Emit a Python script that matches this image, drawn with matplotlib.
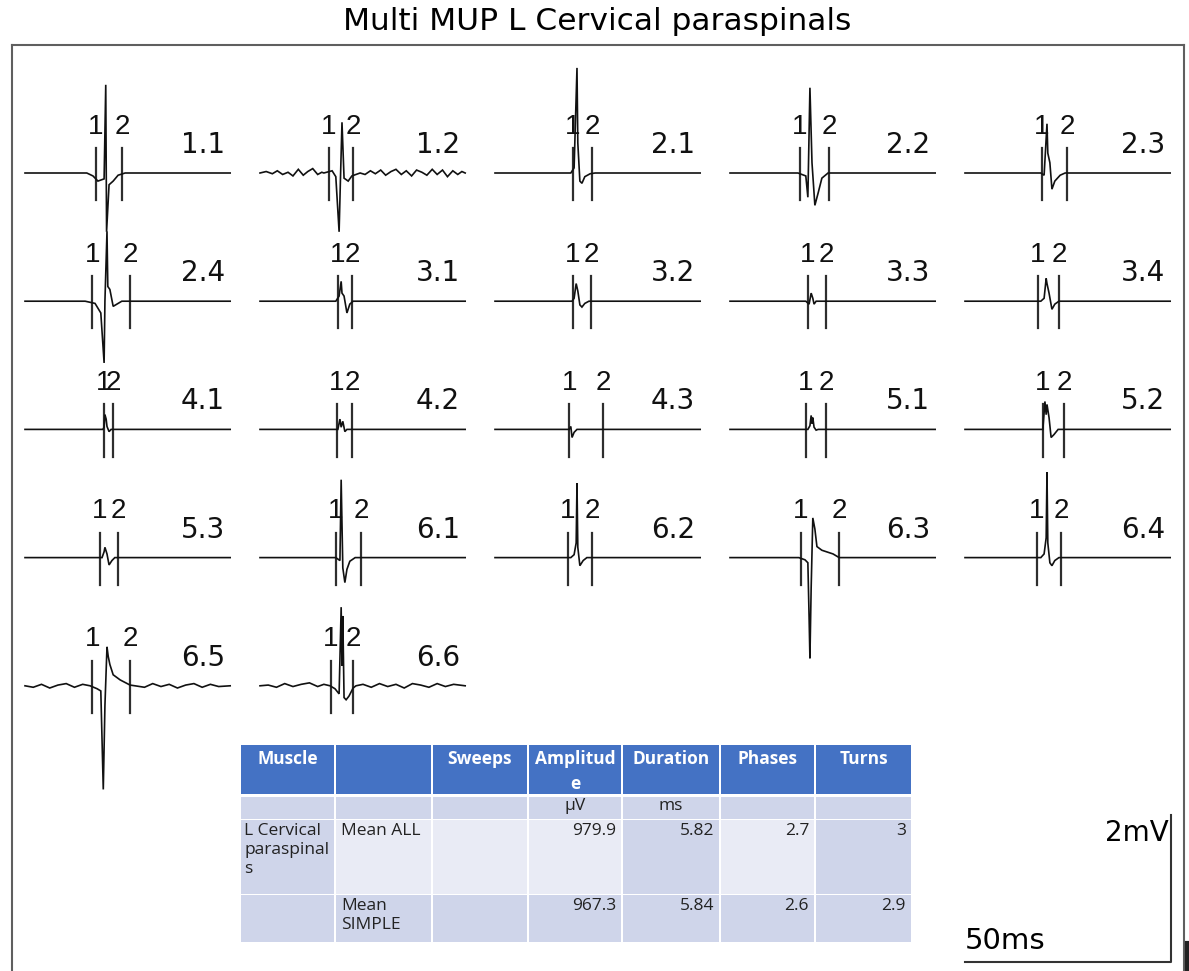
import matplotlib
matplotlib.use("Agg")
import matplotlib.pyplot as plt
from matplotlib.patches import Rectangle
from matplotlib.lines import Line2D

# ---------------- data ----------------
mup_labels = ["1.1", "1.2", "2.1", "2.2", "2.3",
              "2.4", "3.1", "3.2", "3.3", "3.4",
              "4.1", "4.2", "4.3", "5.1", "5.2",
              "5.3", "6.1", "6.2", "6.3", "6.4",
              "6.5", "6.6"]

# marker positions (ms from sweep start)
marker1_ms = [17.2, 16.7, 18.9, 17.0, 18.7,
              16.3, 18.9, 18.9, 18.9, 17.7,
              19.2, 18.7, 18.0, 18.4, 18.9,
              18.2, 18.4, 17.7, 17.2, 17.5,
              16.3, 17.2]
marker2_ms = [23.5, 22.6, 23.5, 24.0, 24.8,
              25.5, 22.3, 23.3, 23.3, 22.8,
              21.4, 22.3, 26.2, 23.3, 24.0,
              22.6, 24.5, 23.5, 26.5, 23.3,
              25.5, 22.6]

# waveform key points (time in ms, amplitude in mV)
wave_t_ms = [
    [15.0, 16.5, 17.7, 19.2, 19.6, 19.8, 20.4, 21.4, 22.6, 24.3],
    [1.5, 3.0, 4.2, 5.5, 6.8, 8.0, 9.3, 10.5, 11.6, 12.8, 14.0, 15.0,
     15.5, 17.5, 18.4, 19.2, 19.5, 19.9, 20.4, 21.4, 22.3, 24.3,
     25.5, 26.8, 28.0, 29.3, 30.5, 31.8, 33.0, 34.3, 35.5, 36.8,
     38.0, 39.3, 40.5, 41.8, 43.0, 44.3, 45.5, 46.8, 48.0, 49.0],
    [18.4, 19.2, 19.9, 20.1, 20.6, 21.1, 21.8, 23.1, 24.3],
    [16.5, 18.4, 18.9, 19.4, 19.9, 20.6, 21.4, 22.3, 23.8],
    [18.4, 19.2, 19.9, 20.1, 20.6, 21.1, 21.8, 23.1, 24.3],
    [14.6, 17.0, 18.4, 19.2, 19.4, 19.9, 20.1, 20.6, 21.4, 22.3, 23.5],
    [18.4, 19.2, 19.7, 19.9, 20.4, 21.1, 21.8, 22.6],
    [18.7, 19.2, 19.7, 20.1, 20.6, 21.1, 21.8, 22.8],
    [18.4, 19.2, 19.7, 20.1, 20.4, 20.9],
    [18.4, 19.2, 19.7, 19.9, 20.4, 21.1, 21.8, 22.8],
    [18.9, 19.2, 19.4, 19.7, 19.9, 20.4, 20.9],
    [18.9, 19.4, 19.7, 20.1, 20.6, 21.1],
    [18.0, 18.4, 18.7, 19.2, 19.9],
    [18.9, 19.4, 19.7, 19.9, 20.1, 20.4, 20.9, 21.4],
    [18.9, 19.4, 19.7, 19.9, 20.4, 20.9, 21.6, 22.6],
    [18.7, 19.2, 19.4, 19.9, 20.4, 21.1, 21.8],
    [18.4, 19.4, 19.7, 20.1, 20.6, 21.1, 21.8, 23.1],
    [18.4, 19.2, 19.7, 19.9, 20.1, 20.6, 21.4, 22.3],
    [16.7, 18.2, 18.9, 19.2, 19.4, 19.7, 20.1, 20.6, 21.1, 22.3, 25.0, 26.5],
    [18.4, 19.2, 19.7, 19.9, 20.1, 20.6, 21.1, 21.8, 22.8],
    [2.0, 4.0, 6.0, 8.0, 10.0, 12.0, 14.0,
     15.8, 17.5, 18.4, 19.0, 19.4, 19.9, 20.2, 20.6, 21.4, 23.1, 25.5, 26.7,
     29.0, 31.0, 33.0, 35.0, 37.0, 39.0, 41.0, 43.0, 45.0, 47.0],
    [2.0, 4.0, 6.0, 8.0, 10.0, 12.0, 14.0, 15.5,
     17.0, 18.2, 19.2, 19.7, 19.9, 20.1, 20.4, 20.9, 21.6, 22.6, 23.3,
     25.0, 27.0, 29.0, 31.0, 33.0, 35.0, 37.0, 39.0, 41.0, 43.0, 45.0, 47.0],
]
wave_v_mV = [
    [0, -0.04, -0.11, -0.08, 1.20, -0.80, -0.16, -0.11, -0.03, 0],
    [0.02, -0.01, 0.03, -0.02, 0.01, -0.04, 0.05, -0.03, 0.02, 0.06, -0.02, 0.01,
     0, 0.03, -0.05, -0.80, -0.14, 0.69, -0.07, -0.11, -0.04, 0,
     -0.02, 0.03, -0.01, 0.04, -0.03, 0.02, 0.05, -0.02, 0.03, -0.04,
     0.04, 0.01, -0.03, 0.05, -0.02, 0.04, -0.05, 0.03, -0.02, 0.02],
    [0, 0.07, 1.43, 0.41, -0.11, -0.14, -0.05, -0.01, 0],
    [0, -0.04, -0.33, 1.16, 0.14, -0.44, -0.27, -0.07, 0],
    [0, -0.03, 0.67, 0.27, 0.14, -0.22, -0.11, -0.03, 0],
    [0, -0.03, -0.16, -0.84, 0.0, 0.95, 0.20, 0.16, -0.07, -0.04, 0],
    [0, 0.07, 0.27, 0.11, 0.07, -0.16, -0.04, 0],
    [0, 0.04, 0.24, 0.14, -0.05, -0.08, -0.03, 0],
    [0, -0.04, 0.11, 0.04, -0.04, 0],
    [0, 0.04, 0.31, 0.24, 0.11, -0.11, -0.04, 0],
    [0, 0.03, 0.20, 0.14, 0.04, -0.03, 0],
    [0, 0.14, 0.03, 0.11, -0.03, 0],
    [0, 0.04, -0.11, -0.04, 0],
    [0, 0.05, 0.19, 0.08, 0.16, 0.03, -0.01, 0],
    [0, 0.38, 0.20, 0.34, 0.16, -0.11, -0.07, 0],
    [0, 0.08, 0.14, 0.05, -0.10, -0.04, 0],
    [0, -0.04, 1.06, -0.14, -0.34, -0.16, -0.05, 0],
    [0, 0.04, 0.20, 1.01, 0.14, -0.11, -0.04, 0],
    [0, -0.03, -0.07, -0.82, -1.37, -0.41, 0.54, 0.39, 0.15, 0.10, 0.05, 0],
    [0, 0.05, 0.27, 1.16, 0.20, -0.07, -0.11, -0.04, 0],
    [-0.02, 0.02, -0.03, 0.01, 0.03, -0.02, 0.02,
     0, -0.04, -0.07, -1.41, -0.27, 0.53, 0.40, 0.29, 0.15, 0.08, 0.01, 0,
     -0.02, 0.03, -0.01, 0.02, -0.03, 0.01, 0.03, -0.02, 0.02, -0.01],
    [0.01, -0.02, 0.03, -0.01, 0.02, 0.04, -0.01, 0.02,
     0, -0.04, -0.11, 1.07, 0.27, 0.95, -0.16, -0.19, -0.14, -0.03, 0,
     0.02, -0.02, 0.03, -0.01, 0.02, -0.03, 0.03, 0.01, -0.02, 0.03, -0.01, 0.02],
]

sweep_ms = 49.8
scale_time_ms = 50
scale_amp_mV = 2

table_header = ["Muscle", "", "Sweeps", "Amplitud\ne", "Duration", "Phases", "Turns"]
table_units = ["", "", "", "µV", "ms", "", ""]
table_rows = [
    ["L Cervical\nparaspinal\ns", "Mean ALL", "", "979.9", "5.82", "2.7", "3"],
    ["", "Mean\nSIMPLE", "", "967.3", "5.84", "2.6", "2.9"],
]

# ---------------- layout ----------------
W, H = 1189, 971
PX_MS = 4.12      # pixels per ms
PX_MV = 73.5      # pixels per mV
frame_l, frame_r, frame_t, frame_b = 12, 1184, 45, 975

fig = plt.figure(figsize=(W / 100, H / 100), dpi=100)
ax = fig.add_axes([frame_l / W, (H - frame_b) / H,
                   (frame_r - frame_l) / W, (frame_b - frame_t) / H])
ax.set_xlim(0, (frame_r - frame_l) / PX_MS)
ax.set_ylim(0, (frame_b - frame_t) / PX_MV)
ax.set_xticks([])
ax.set_yticks([])
for s in ax.spines.values():
    s.set_color("#5f5f5f")
    s.set_linewidth(1.5)
ax.spines["bottom"].set_visible(False)

col_x0 = (25 - frame_l) / PX_MS
col_step = 235 / PX_MS
row_y0 = (frame_b - 173) / PX_MV
row_step = 128.2 / PX_MV

font_main = ["DejaVu Sans"]
font_mark = ["Liberation Sans", "DejaVu Sans"]
mk_hi, mk_lo = 0.34, -0.37

for i, lab in enumerate(mup_labels):
    r, c = divmod(i, 5)
    x0 = col_x0 + c * col_step
    y0 = row_y0 - r * row_step
    t = [0] + wave_t_ms[i] + [sweep_ms]
    v = [0] + wave_v_mV[i] + [0]
    ax.plot([x0 + tt for tt in t], [y0 + vv for vv in v],
            color="#111111", lw=1.2, solid_joinstyle="miter", zorder=3)
    for m, txt in ((marker1_ms[i], "1"), (marker2_ms[i], "2")):
        ax.plot([x0 + m, x0 + m], [y0 + mk_lo, y0 + mk_hi],
                color="#2e2e2e", lw=1.6, zorder=2)
        ax.text(x0 + m, y0 + 0.63, txt, ha="center", va="center",
                fontsize=20, family=font_mark, color="#111111")
    ax.text(x0 + 48.6, y0 + 0.38, lab, ha="right", va="center",
            fontsize=20, family=font_main, color="#111111")

# scale bar
sb_x = (1171 - frame_l) / PX_MS
sb_y = (frame_b - 962) / PX_MV
ax.plot([sb_x - scale_time_ms, sb_x, sb_x],
        [sb_y, sb_y, sb_y + scale_amp_mV], color="#333333", lw=1.5)
ax.text(sb_x - 0.6, sb_y + scale_amp_mV - 0.25, f"{scale_amp_mV}mV",
        ha="right", va="center", fontsize=20, family=font_main)
ax.text(sb_x - scale_time_ms, sb_y + 0.29, f"{scale_time_ms}ms",
        ha="left", va="center", fontsize=21, family=font_main)

fig.text(597 / W, 1 - 22 / H, "Multi MUP L Cervical paraspinals",
         ha="center", va="center", fontsize=22.5, family=font_main)

# ---------------- table ----------------
tax = fig.add_axes([0, 0, 1, 1], zorder=5)
tax.set_xlim(0, W)
tax.set_ylim(H, 0)
tax.axis("off")
# dark edge piece at the bottom right of the frame
tax.add_line(Line2D([1186.5, 1186.5], [943, 971], color="#222222", lw=3))
col_edges = [240, 335, 432, 528, 622, 720, 815, 912]
row_edges = [(745, 794), (797, 819), (820, 894), (895, 942)]
HEAD, DARK, LIGHT = "#4472C4", "#CFD5EA", "#E9EBF5"
row_colors = [
    [HEAD] * 7,
    [DARK] * 7,
    [DARK, LIGHT, LIGHT, LIGHT, DARK, LIGHT, DARK],
    [DARK] * 7,
]
font_tab = ["Open Sans", "DejaVu Sans"]
all_rows = [table_header, table_units] + table_rows
for ri, (top, bot) in enumerate(row_edges):
    for ci in range(7):
        l, rgt = col_edges[ci], col_edges[ci + 1]
        tax.add_patch(Rectangle((l + 1, top), rgt - l - 2, bot - top,
                                facecolor=row_colors[ri][ci], edgecolor="none"))
        txt = all_rows[ri][ci]
        if not txt:
            continue
        if ri == 0:
            tax.text((l + rgt) / 2, top + 5, txt, ha="center", va="top",
                     fontsize=12.5, family=font_tab, color="white",
                     fontweight="bold", linespacing=1.5)
        elif ri == 1:
            tax.text((l + rgt) / 2, top + 1, txt, ha="center", va="top",
                     fontsize=12.5, family=font_tab, color="#222222")
        elif ci >= 3:
            tax.text(rgt - 6, top + 3, txt, ha="right", va="top",
                     fontsize=12.5, family=font_tab, color="#222222")
        else:
            tax.text(l + (4 if ci == 0 else 6), top + 3, txt, ha="left",
                     va="top", fontsize=12.5, family=font_tab,
                     color="#222222", linespacing=1.27)

fig.savefig("out.png", dpi=100)
